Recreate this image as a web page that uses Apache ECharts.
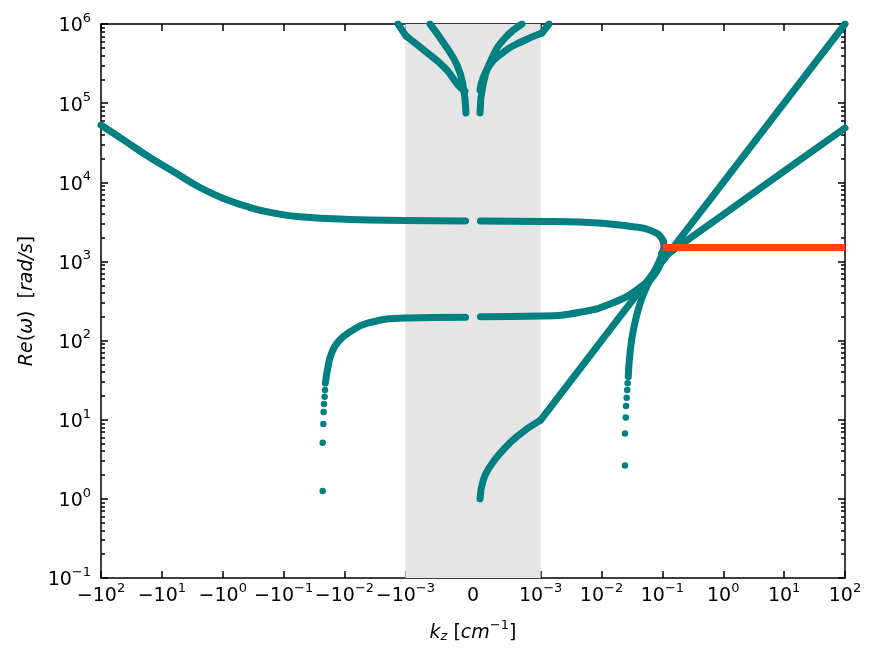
<!DOCTYPE html>
<html>
<head>
<meta charset="utf-8">
<script src="https://cdn.jsdelivr.net/npm/echarts@6/dist/echarts.min.js"></script>
<style>
html, body { margin: 0; padding: 0; background: #fff; }
#chart { width: 880px; height: 656px; }
</style>
</head>
<body>
<div id="chart"></div>
<script>
// symlog 横轴参数 (线性区 |kz| < 1e-3)
var LIN_THRESH = 1e-3;
var LIN_SCALE = 1 / 0.9;

// 刻度
var xTickLabels = [-100, -10, -1, -0.1, -0.01, -0.001, 0, 0.001, 0.01, 0.1, 1, 10, 100];
var yTickLabels = [0.1, 1, 10, 100, 1e3, 1e4, 1e5, 1e6];

// 灰色区域
var bandX = [-0.001, 0.001];

// 各分支 [kz, Re(w)]
var upperLeft = [[-100, 53000], [-40.4, 33300], [-15.7, 20600], [-6.1, 13300], [-2.37, 8600], [-0.92, 6150],
    [-0.357, 4800], [-0.139, 4060], [-0.054, 3670], [-0.0081, 3390], [-0.001, 3290], [-0.00011, 3240]];
var upperRight = [[0.00011, 3240], [0.001, 3200], [0.0044, 3150], [0.0334, 2750], [0.071, 2380],
    [0.0975, 1960], [0.106, 1540], [0.0975, 1260]];
var lowerLeftDots = [[-0.0228, 1.26], [-0.0228, 5.1], [-0.0223, 8.8], [-0.0220, 12.5], [-0.0217, 15.8],
    [-0.0212, 19.5], [-0.0209, 23.7]];
var lowerLeft = [[-0.0206, 29], [-0.0187, 46], [-0.0162, 70], [-0.0119, 102], [-0.0081, 129],
    [-0.0043, 165], [-0.001, 193], [-0.00011, 197]];
var lowerRight = [[0.00011, 200], [0.001, 204], [0.0044, 228], [0.0155, 300], [0.043, 470],
    [0.0817, 760], [0.0975, 1260]];
var rightDots = [[0.0243, 2.63], [0.0243, 6.7], [0.0250, 10.7], [0.0253, 14.9], [0.0259, 19.0],
    [0.0265, 23.7], [0.0269, 28.8]];
var rightCurve = [[0.0275, 34.9], [0.0294, 69], [0.0334, 136], [0.043, 295], [0.0587, 529],
    [0.0857, 947], [0.1035, 1330]];
var steepLine = [[0.000104, 1.0], [0.000152, 1.73], [0.000251, 2.55], [0.0004, 3.76], [0.000646, 6.1],
    [0.001, 9.9], [0.01, 100], [0.1, 1000], [1, 10000], [10, 100000], [100, 1000000]];
var shallowLine = [[0.0985, 1100], [1, 3900], [10, 13800], [100, 48500]];
var mergedLine = [[0.102, 1500], [100, 1500]];
var topOuterLeft = [[-0.00132, 1e6], [-0.00099, 705000], [-0.00071, 456000], [-0.000414, 278000],
    [-0.00022, 169000], [-0.000118, 142000]];
var topInnerLeft = [[-0.000636, 1e6], [-0.000414, 543000], [-0.000237, 303000], [-0.000148, 169000],
    [-0.000104, 75000]];
var topInnerRight = [[0.000104, 75000], [0.000148, 169000], [0.000281, 372000], [0.000473, 665000],
    [0.000724, 1e6]];
var topOuterRight = [[0.000104, 147000], [0.000222, 278000], [0.000473, 456000], [0.00074, 610000],
    [0.00105, 770000], [0.00137, 1e6]];

var TEAL = '#008080';
var ORANGE = '#ff4500';
var FONT = 'DejaVu Sans';
var LW = 7;

function symlog(x) {
    var a = Math.abs(x);
    if (a <= LIN_THRESH) return x / LIN_THRESH * LIN_SCALE;
    return (x < 0 ? -1 : 1) * (LIN_SCALE + Math.log10(a / LIN_THRESH));
}
function toT(arr) {
    return arr.map(function (p) { return [symlog(p[0]), p[1]]; });
}

var xTickT = xTickLabels.map(symlog);
var yMajorLog = yTickLabels.map(function (v) { return Math.round(Math.log10(v)); });
var yMinorLog = [];
for (var n = -1; n < 6; n++) {
    for (var k = 2; k < 10; k++) yMinorLog.push(n + Math.log10(k));
}

function supText(e) {
    return e < 0 ? '\u2212' + (-e) : '' + e;
}
function fmtX(v) {
    var best = 0;
    for (var i = 0; i < xTickT.length; i++) {
        if (Math.abs(xTickT[i] - v) < Math.abs(xTickT[best] - v)) best = i;
    }
    var val = xTickLabels[best];
    if (val === 0) return '{b|0}';
    var e = Math.round(Math.log10(Math.abs(val)));
    return '{b|' + (val < 0 ? '\u221210' : '10') + '}{s|' + supText(e) + '}';
}
function fmtY(v) {
    return '{b|10}{s|' + supText(Math.round(Math.log10(v))) + '}';
}

var richTick = {
    b: { fontFamily: FONT, fontSize: 19, color: '#000', lineHeight: 24, verticalAlign: 'bottom' },
    s: { fontFamily: FONT, fontSize: 13, color: '#000', lineHeight: 13, verticalAlign: 'top' }
};
var richName = {
    i: { fontFamily: FONT, fontStyle: 'italic', fontSize: 19, color: '#000', lineHeight: 24, verticalAlign: 'bottom' },
    n: { fontFamily: FONT, fontSize: 19, color: '#000', lineHeight: 24, verticalAlign: 'bottom' },
    sub: { fontFamily: FONT, fontStyle: 'italic', fontSize: 13, color: '#000', lineHeight: 13, verticalAlign: 'bottom' },
    sup: { fontFamily: FONT, fontSize: 13, color: '#000', lineHeight: 13, verticalAlign: 'top' }
};

var axisLineStyle = { color: '#000', width: 1.5 };

function lineSeries(data, smooth) {
    return {
        type: 'line', data: toT(data), symbol: 'none', smooth: smooth, silent: true, z: 3,
        lineStyle: { color: TEAL, width: LW, opacity: 1, cap: 'round', join: 'round' }
    };
}
function dotSeries(data) {
    return {
        type: 'scatter', data: toT(data), symbol: 'circle', symbolSize: 6.5, silent: true, z: 3,
        itemStyle: { color: TEAL, opacity: 1 }
    };
}

var series = [{
    type: 'line', data: [], silent: true, z: 1,
    markArea: {
        silent: true,
        itemStyle: { color: '#e5e5e5', borderWidth: 0 },
        data: [[{ xAxis: symlog(bandX[0]), yAxis: 0.1 }, { xAxis: symlog(bandX[1]), yAxis: 1e6 }]]
    }
}];
series.push(lineSeries(upperLeft, 0.5));
series.push(lineSeries(upperRight, 0.5));
series.push(lineSeries(lowerLeft, 0.5));
series.push(lineSeries(lowerRight, 0.5));
series.push(lineSeries(rightCurve, 0.5));
series.push(lineSeries(steepLine.slice(0, 6), 0.5));
series.push(lineSeries(steepLine.slice(5), false));
series.push(lineSeries(shallowLine, false));
series.push(lineSeries(topOuterLeft.slice(0, 2), false));
series.push(lineSeries(topOuterLeft.slice(1), 0.5));
series.push(lineSeries(topInnerLeft, 0.5));
series.push(lineSeries(topInnerRight, 0.5));
series.push(lineSeries(topOuterRight.slice(0, 5), 0.5));
series.push(lineSeries(topOuterRight.slice(4), false));
series.push(dotSeries(lowerLeftDots));
series.push(dotSeries(rightDots));
series.push({
    type: 'line', data: toT(mergedLine), symbol: 'none', silent: true, z: 4,
    lineStyle: { color: ORANGE, width: LW, opacity: 1, cap: 'butt' }
});

var option = {
    animation: false,
    backgroundColor: '#fff',
    grid: { left: 101, right: 35, top: 24, bottom: 78, outerBoundsMode: 'none' },
    xAxis: [{
        type: 'value', position: 'bottom',
        min: symlog(-100), max: symlog(100),
        axisLine: { show: true, onZero: false, lineStyle: axisLineStyle },
        axisTick: { show: true, inside: true, length: 7, customValues: xTickT, lineStyle: axisLineStyle },
        axisLabel: { show: true, customValues: xTickT, formatter: fmtX, margin: 4, rich: richTick, fontFamily: FONT },
        splitLine: { show: false },
        name: '{i|k}{sub|z}{n| [}{i|cm}{sup|\u22121}{n|]}',
        nameLocation: 'middle', nameGap: 41,
        nameTextStyle: { rich: richName, fontFamily: FONT }
    }, {
        type: 'value', position: 'top',
        min: symlog(-100), max: symlog(100),
        axisLine: { show: true, onZero: false, lineStyle: axisLineStyle },
        axisTick: { show: true, inside: true, length: 7, customValues: xTickT, lineStyle: axisLineStyle },
        axisLabel: { show: false },
        splitLine: { show: false }
    }],
    yAxis: [{
        type: 'log', logBase: 10, min: 0.1, max: 1e6, splitNumber: 7, position: 'left',
        axisLine: { show: true, onZero: false, lineStyle: axisLineStyle },
        axisTick: { show: true, inside: true, length: 7, lineStyle: axisLineStyle },
        minorTick: { show: false },
        axisLabel: { show: true, formatter: fmtY, margin: 10, rich: richTick, fontFamily: FONT },
        splitLine: { show: false },
        name: '{i|Re}{n|(}{i|\u03c9}{n|)  [}{i|rad/s}{n|]}',
        nameLocation: 'middle', nameGap: 64, nameRotate: 90,
        nameTextStyle: { rich: richName, fontFamily: FONT }
    }, {
        type: 'value', min: -1, max: 6, position: 'left',
        axisLine: { show: false, onZero: false },
        axisTick: { show: true, inside: true, length: 4, customValues: yMinorLog, lineStyle: axisLineStyle },
        axisLabel: { show: false },
        splitLine: { show: false }
    }, {
        type: 'value', min: -1, max: 6, position: 'right',
        axisLine: { show: true, onZero: false, lineStyle: axisLineStyle },
        axisTick: { show: true, inside: true, length: 7, customValues: yMajorLog, lineStyle: axisLineStyle },
        axisLabel: { show: false },
        splitLine: { show: false }
    }, {
        type: 'value', min: -1, max: 6, position: 'right',
        axisLine: { show: false, onZero: false },
        axisTick: { show: true, inside: true, length: 4, customValues: yMinorLog, lineStyle: axisLineStyle },
        axisLabel: { show: false },
        splitLine: { show: false }
    }],
    series: series
};

var chart = echarts.init(document.getElementById('chart'));
chart.setOption(option);
</script>
</body>
</html>
